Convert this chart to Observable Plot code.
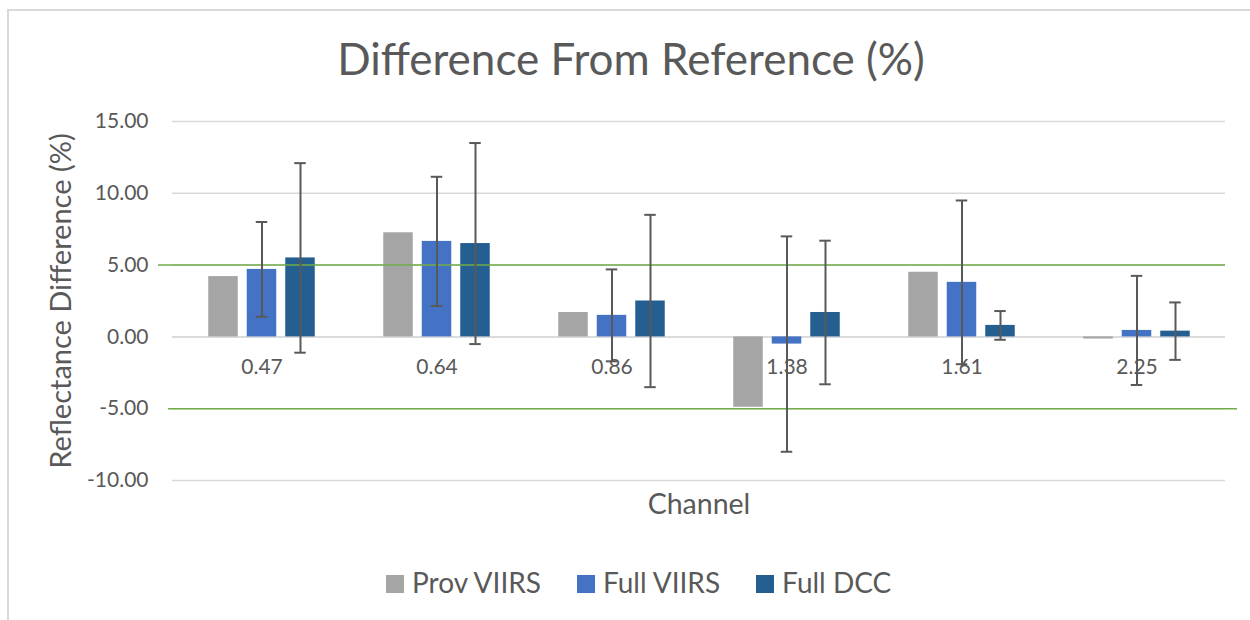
<!DOCTYPE html>
<html>
<head>
<meta charset="utf-8">
<script src="https://cdn.jsdelivr.net/npm/d3@7"></script>
<script src="https://cdn.jsdelivr.net/npm/@observablehq/plot@0.6"></script>
<style>
  html, body { margin: 0; padding: 0; background: #fff; }
  #wrap { position: relative; width: 1250px; height: 620px; overflow: hidden; font-family: Lato, "Open Sans", sans-serif; color: #595959; }
  #frame { position: absolute; left: 7px; top: 9px; width: 1300px; height: 700px; border-top: 2px solid #d9d9d9; border-left: 2px solid #d9d9d9; box-sizing: border-box; }
  #title { position: absolute; left: 0; top: 31.5px; width: 1262px; text-align: center; font-size: 44px; line-height: normal; white-space: nowrap; }
  #chart { position: absolute; left: 0; top: 100px; }
  #legend { position: absolute; left: 386px; top: 564.5px; font-size: 28px; line-height: normal; white-space: nowrap; }
  .item { display: inline-block; margin-right: 36px; }
  .sw { display: inline-block; width: 18px; height: 18px; margin-right: 8px; vertical-align: baseline; }
</style>
</head>
<body>
<div id="wrap">
  <div id="frame"></div>
  <div id="title"></div>
  <div id="chart"></div>
  <div id="legend"></div>
</div>
<script>
const titleText = "Difference From Reference (%)";
const yLabel = "Reflectance Difference (%)";
const xLabel = "Channel";
const categories = ["0.47", "0.64", "0.86", "1.38", "1.61", "2.25"];
const seriesNames = ["Prov VIIRS", "Full VIIRS", "Full DCC"];
const seriesColors = ["#A5A5A5", "#4472C4", "#255E91"];
const provViirs = [4.2, 7.25, 1.7, -4.9, 4.5, -0.15];
const fullViirs = [4.7, 6.65, 1.5, -0.5, 3.8, 0.45];
const fullViirsErr = [3.3, 4.5, 3.2, 7.5, 5.7, 3.8];
const fullDcc = [5.5, 6.5, 2.5, 1.7, 0.8, 0.4];
const fullDccErr = [6.6, 7.0, 6.0, 5.0, 1.0, 2.0];
const yTicks = [-10, -5, 0, 5, 10, 15];
const limits = [5, -5];

document.getElementById("title").textContent = titleText;

const seriesData = [
  {name: seriesNames[0], values: provViirs, err: null},
  {name: seriesNames[1], values: fullViirs, err: fullViirsErr},
  {name: seriesNames[2], values: fullDcc, err: fullDccErr}
];
const offsets = [-38.5, 0, 38.5];
const bandW = (1250 - 172 - 25) / categories.length;
const barInset = (bandW - 30) / 2;
const capInset = (bandW - 12) / 2;

const marks = [
  Plot.gridY({ticks: yTicks, stroke: "#d9d9d9", strokeOpacity: 1, strokeWidth: 1.5}),
  Plot.axisY({ticks: yTicks, tickFormat: d => d.toFixed(2), tickSize: 0, tickPadding: 24, fontSize: 21, label: null}),
  Plot.ruleY([0], {stroke: "#d9d9d9", strokeWidth: 1.5})
];

seriesData.forEach((s, i) => {
  const rows = categories.map((c, j) => ({ch: c, v: s.values[j]}));
  marks.push(Plot.barY(rows, {x: "ch", y: "v", fill: seriesColors[i], dx: offsets[i], insetLeft: barInset, insetRight: barInset}));
});

marks.push(Plot.ruleY([limits[0]], {stroke: "#70AD47", strokeWidth: 1.5, insetLeft: -14}));
marks.push(Plot.ruleY([limits[1]], {stroke: "#70AD47", strokeWidth: 1.5, insetLeft: -4, insetRight: -12}));

seriesData.forEach((s, i) => {
  if (!s.err) return;
  const rows = categories.map((c, j) => ({ch: c, lo: s.values[j] - s.err[j], hi: s.values[j] + s.err[j]}));
  marks.push(Plot.ruleX(rows, {x: "ch", y1: "lo", y2: "hi", dx: offsets[i], stroke: "#595959", strokeWidth: 2}));
  marks.push(Plot.tickY(rows, {x: "ch", y: "hi", dx: offsets[i], stroke: "#595959", strokeWidth: 2, insetLeft: capInset, insetRight: capInset}));
  marks.push(Plot.tickY(rows, {x: "ch", y: "lo", dx: offsets[i], stroke: "#595959", strokeWidth: 2, insetLeft: capInset, insetRight: capInset}));
});

marks.push(Plot.text(categories, {x: d => d, y: () => 0, dy: 30, fontSize: 21, fill: "#595959"}));
marks.push(Plot.text([xLabel], {frameAnchor: "bottom", lineAnchor: "middle", dy: 24, fontSize: 28.5, fill: "#595959"}));
marks.push(Plot.text([yLabel], {frameAnchor: "left", textAnchor: "middle", lineAnchor: "middle", rotate: -90, dx: -111, fontSize: 29, fill: "#595959"}));

const chart = Plot.plot({
  width: 1250,
  height: 420,
  marginTop: 21,
  marginBottom: 40,
  marginLeft: 172,
  marginRight: 25,
  style: {fontFamily: "Lato, 'Open Sans', sans-serif", color: "#595959", background: "transparent", overflow: "visible"},
  x: {domain: categories, padding: 0, axis: null},
  y: {domain: [-10, 15]},
  marks
});
document.getElementById("chart").appendChild(chart);

const legend = document.getElementById("legend");
seriesNames.forEach((n, i) => {
  const item = document.createElement("span");
  item.className = "item";
  const sw = document.createElement("span");
  sw.className = "sw";
  sw.style.background = seriesColors[i];
  item.appendChild(sw);
  item.appendChild(document.createTextNode(n));
  legend.appendChild(item);
});
</script>
</body>
</html>
